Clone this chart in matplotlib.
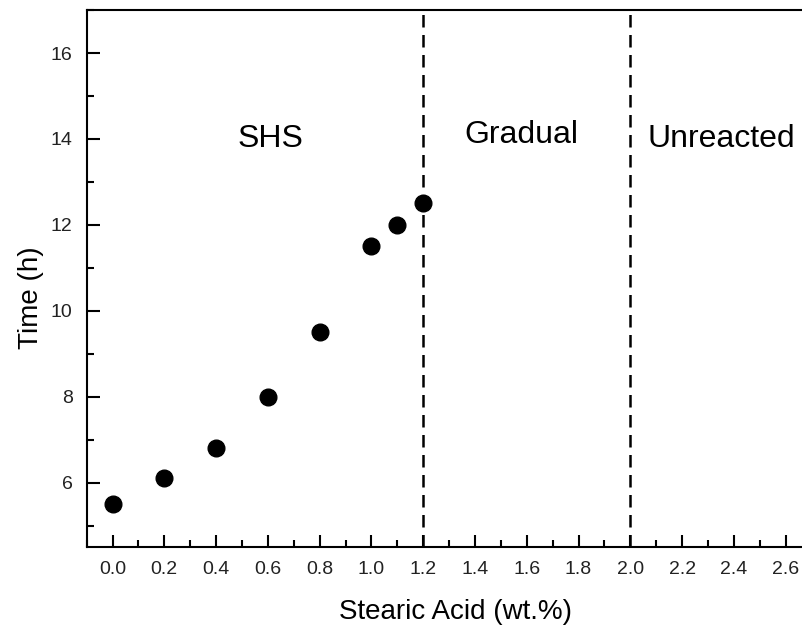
"""Combustion regime vs stearic acid content."""
import matplotlib

matplotlib.use("Agg")
import matplotlib.pyplot as plt
from matplotlib.ticker import MultipleLocator

plt.rcParams["font.family"] = ["Liberation Sans", "DejaVu Sans"]

stearic_acid = [0.0, 0.2, 0.4, 0.6, 0.8, 1.0, 1.1, 1.2]
time_h = [5.5, 6.1, 6.8, 8.0, 9.5, 11.5, 12.0, 12.5]
boundaries = [1.2, 2.0]
regimes = ["SHS", "Gradual", "Unreacted"]
regime_pos = [(0.61, 14.0), (1.58, 14.1), (2.35, 14.0)]

fig = plt.figure(figsize=(8.02, 6.29), dpi=100)
ax = fig.add_axes([0.108, 0.13, 0.920, 0.854])

ax.plot(stearic_acid, time_h, "o", color="black", markersize=12)
for b in boundaries:
    ax.axvline(b, color="black", linestyle=(0, (5, 3)), linewidth=1.8)
for name, (x, y) in zip(regimes, regime_pos):
    ax.text(x, y, name, ha="center", va="center", fontsize=23)

ax.set_xlim(-0.1, 2.75)
ax.set_ylim(4.5, 17)
ax.xaxis.set_major_locator(MultipleLocator(0.2))
ax.xaxis.set_minor_locator(MultipleLocator(0.1))
ax.yaxis.set_major_locator(MultipleLocator(2))
ax.yaxis.set_minor_locator(MultipleLocator(1))
ax.xaxis.set_major_formatter(lambda v, pos: f"{v:.1f}")
ax.tick_params(which="both", direction="in", width=1.5, labelsize=14,
               labelcolor="#222222")
ax.tick_params(which="major", length=9, pad=10)
ax.tick_params(which="minor", length=5)
for s in ax.spines.values():
    s.set_linewidth(1.5)
ax.spines["right"].set_visible(False)

ax.set_xlabel("Stearic Acid (wt.%)", fontsize=20, labelpad=15)
ax.set_ylabel("Time (h)", fontsize=20)
ax.yaxis.set_label_coords(-0.058, 0.464)

fig.savefig("out.png", dpi=100)
